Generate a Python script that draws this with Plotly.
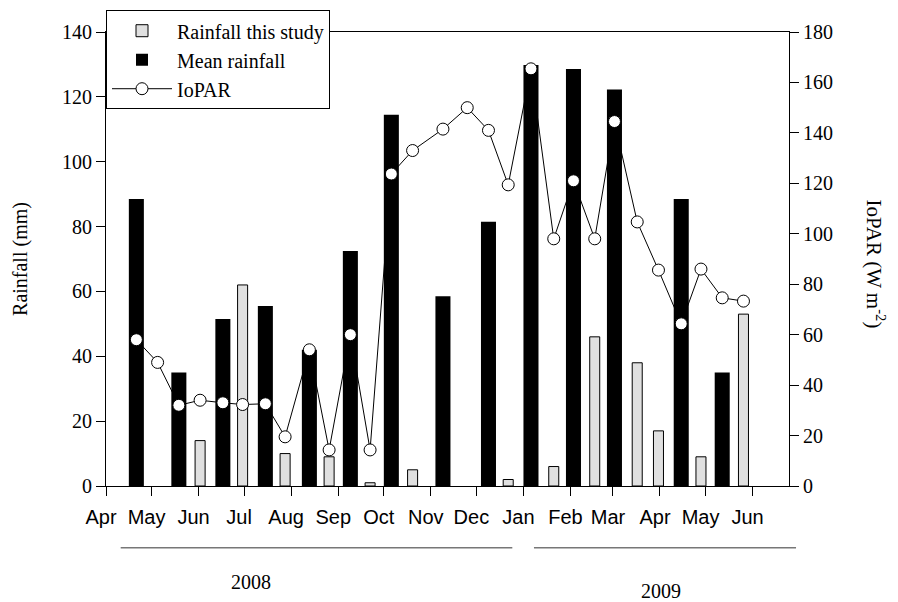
import plotly.graph_objects as go

# ---------------- data ----------------
mean_dates = ["2008-04-21", "2008-05-19", "2008-06-17", "2008-07-15", "2008-08-13",
              "2008-09-09", "2008-10-06", "2008-11-09", "2008-12-09", "2009-01-06",
              "2009-02-03", "2009-03-02", "2009-04-15", "2009-05-12"]
mean_rain = [88.5, 35, 51.5, 55.5, 42, 72.5, 114.5, 58.5, 81.5, 129.8, 128.6, 122.3, 88.5, 35]

study_dates = ["2008-06-02", "2008-06-30", "2008-07-28", "2008-08-26", "2008-09-22",
               "2008-10-20", "2008-12-22", "2009-01-21", "2009-02-17", "2009-03-17",
               "2009-03-31", "2009-04-28", "2009-05-26"]
study_rain = [14, 62, 10, 9, 1, 5, 2, 6, 46, 38, 17, 9, 53]

par_dates = ["2008-04-21", "2008-05-05", "2008-05-19", "2008-06-02", "2008-06-17",
             "2008-06-30", "2008-07-15", "2008-07-28", "2008-08-13", "2008-08-26",
             "2008-09-09", "2008-09-22", "2008-10-06", "2008-10-20", "2008-11-09",
             "2008-11-25", "2008-12-09", "2008-12-22", "2009-01-06", "2009-01-21",
             "2009-02-03", "2009-02-17", "2009-03-02", "2009-03-17", "2009-03-31",
             "2009-04-15", "2009-04-28", "2009-05-12", "2009-05-26"]
iopar = [58, 49, 32, 34, 33, 32.3, 32.6, 19.5, 54, 14.3, 60, 14.3, 123.7, 133, 141.5,
         150, 141, 119.4, 165.4, 98, 121, 98, 144.5, 104.7, 85.6, 64.3, 86, 74.6, 73.3]

year_labels = ["2008", "2009"]

DAY_MS = 86400000
SERIF = "Liberation Serif, Times New Roman, serif"
SANS = "Liberation Sans, Arial, sans-serif"

fig = go.Figure()

fig.add_trace(go.Bar(
    x=study_dates, y=study_rain, name="Rainfall this study",
    width=6.6 * DAY_MS,
    marker=dict(color="#e0e0e0", line=dict(color="black", width=1)),
))
fig.add_trace(go.Bar(
    x=mean_dates, y=mean_rain, name="Mean rainfall",
    width=9.9 * DAY_MS,
    marker=dict(color="black", line=dict(color="black", width=0)),
))
fig.add_trace(go.Scatter(
    x=par_dates, y=iopar, name="IoPAR", yaxis="y2",
    mode="lines+markers",
    line=dict(color="black", width=1),
    marker=dict(symbol="circle", size=12, color="white", line=dict(color="black", width=1)),
))

fig.update_layout(
    width=890, height=594,
    margin=dict(l=98, r=109, t=24, b=116, autoexpand=False),
    paper_bgcolor="white", plot_bgcolor="white",
    barmode="overlay",
    showlegend=True,
    legend=dict(
        x=0, y=1.048, xanchor="left", yanchor="top",
        bgcolor="white", bordercolor="black", borderwidth=1,
        font=dict(family=SERIF, size=20, color="black"),
        itemwidth=60, tracegroupgap=0,
        entrywidth=240, entrywidthmode="pixels",
    ),
    xaxis=dict(
        type="date",
        range=["2008-04-01", "2009-06-25"],
        tickmode="linear", tick0="2008-04-01", dtick="M1",
        tickformat="%b",
        ticks="outside", ticklen=9, tickcolor="black", tickwidth=1,
        ticklabelshift=-5, ticklabelstandoff=4,
        showline=True, linecolor="black", linewidth=1, mirror=True,
        showgrid=False, zeroline=False,
        tickfont=dict(family=SANS, size=20, color="black"),
    ),
    yaxis=dict(
        range=[0, 140], dtick=20,
        ticks="outside", ticklen=9, tickcolor="black",
        showline=True, linecolor="black", linewidth=1,
        showgrid=False, zeroline=False,
        tickfont=dict(family=SERIF, size=20, color="black"),
    ),
    yaxis2=dict(
        range=[0, 180], dtick=20, overlaying="y", side="right",
        ticks="outside", ticklen=9, tickcolor="black",
        showline=True, linecolor="black", linewidth=1,
        showgrid=False, zeroline=False,
        tickfont=dict(family=SERIF, size=20, color="black"),
    ),
)

ANN = dict(xref="paper", yref="paper", showarrow=False,
           xanchor="center", yanchor="middle",
           font=dict(family=SERIF, size=20, color="black"))

# axis titles
fig.add_annotation(text="Rainfall (mm)", x=-0.126, y=0.5, textangle=-90, **ANN)
fig.add_annotation(text="IoPAR (W m<sup>-2</sup>)", x=1.126, y=0.49, textangle=90,
                   **{**ANN, "font": dict(family=SERIF, size=21, color="black")})

# year brackets
fig.add_shape(type="line", xref="paper", yref="paper", x0=0.0215, x1=0.5949,
              y0=-0.1359, y1=-0.1359, line=dict(color="#777777", width=1.5))
fig.add_shape(type="line", xref="paper", yref="paper", x0=0.6266, x1=1.0103,
              y0=-0.1359, y1=-0.1359, line=dict(color="#777777", width=1.5))
fig.add_annotation(text=year_labels[0], x=0.2123, y=-0.2108, **ANN)
fig.add_annotation(text=year_labels[1], x=0.8121, y=-0.2313, **ANN)

fig.write_html("out.html")
